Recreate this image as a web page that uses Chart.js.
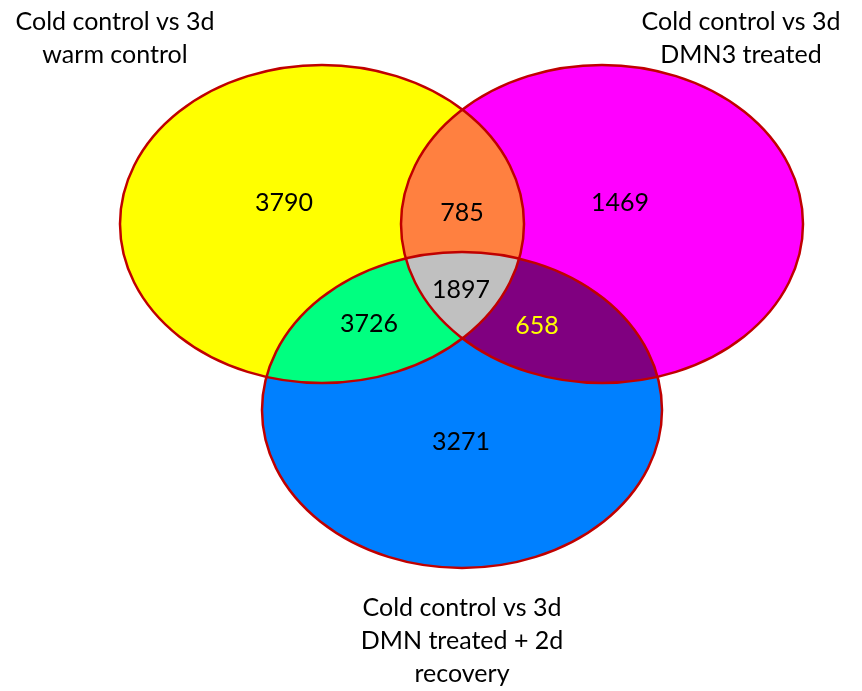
<!DOCTYPE html>
<html lang="en">
<head>
<meta charset="UTF-8">
<title>Venn diagram</title>
<script src="https://cdn.jsdelivr.net/npm/chart.js"></script>
<style>
  html, body { margin: 0; padding: 0; background: #ffffff; }
  canvas { display: block; }
</style>
</head>
<body>
<canvas id="venn" width="862" height="691"></canvas>
<script>
// --- data ---
const setNames = [
  ["Cold control vs 3d", "warm control"],
  ["Cold control vs 3d", "DMN3 treated"],
  ["Cold control vs 3d", "DMN treated + 2d", "recovery"]
];
// region membership: which sets each region belongs to (0 = warm, 1 = DMN3, 2 = DMN+recovery)
const regionSets = [[0], [1], [2], [0, 1], [0, 2], [1, 2], [0, 1, 2]];
const regionCounts = [3790, 1469, 3271, 785, 3726, 658, 1897];

// --- layout (in axis units, 1 unit = 1 px of the 862x691 figure) ---
const ellipses = [
  { cx: 322, cy: 224, rx: 202, ry: 159 },
  { cx: 602, cy: 224, rx: 201, ry: 159 },
  { cx: 462, cy: 410, rx: 200, ry: 158 }
];
const regionAnchors = [
  [284, 203], [620, 203], [461, 442], [462, 213], [369, 324], [537, 326], [461, 290]
];
const setLabelAnchors = [[115, 22], [741, 22], [462, 608]];
const setLabelLineGap = 33;

// --- styles ---
const setColors = ["#ffff00", "#ff00ff", "#0080ff"];
const regionColors = ["#ffff00", "#ff00ff", "#0080ff", "#ff8040", "#00ff80", "#800080", "#c0c0c0"];
const regionTextColors = ["#000", "#000", "#000", "#000", "#000", "#ffff00", "#000"];
const outlineColor = "#c00000";
const fontFamily = "Lato, 'Open Sans', sans-serif";

function ellipsePath(ctx, chart, e) {
  const x = chart.scales.x, y = chart.scales.y;
  const px = x.getPixelForValue(e.cx), py = y.getPixelForValue(e.cy);
  const prx = Math.abs(x.getPixelForValue(e.cx + e.rx) - px);
  const pry = Math.abs(y.getPixelForValue(e.cy + e.ry) - py);
  ctx.beginPath();
  ctx.ellipse(px, py, prx, pry, 0, 0, Math.PI * 2);
}

const vennPlugin = {
  id: "venn",
  beforeDatasetsDraw(chart) {
    const ctx = chart.ctx;
    // fill each region: clip to all but the last member set, then fill the last
    regionSets.forEach((sets, i) => {
      ctx.save();
      for (let k = 0; k < sets.length - 1; k++) {
        ellipsePath(ctx, chart, ellipses[sets[k]]);
        ctx.clip();
      }
      ellipsePath(ctx, chart, ellipses[sets[sets.length - 1]]);
      ctx.fillStyle = regionColors[i];
      ctx.fill();
      ctx.restore();
    });
    ctx.save();
    ctx.strokeStyle = outlineColor;
    ctx.lineWidth = 2.5;
    ellipses.forEach(e => { ellipsePath(ctx, chart, e); ctx.stroke(); });
    ctx.restore();
  },
  afterDatasetsDraw(chart) {
    const ctx = chart.ctx;
    const meta = chart.getDatasetMeta(0);
    ctx.save();
    ctx.textAlign = "center";
    ctx.textBaseline = "middle";
    ctx.font = "25px " + fontFamily;
    meta.data.forEach((pt, i) => {
      ctx.fillStyle = regionTextColors[i];
      ctx.fillText(String(regionCounts[i]), pt.x, pt.y);
    });
    // set names
    ctx.fillStyle = "#000";
    setNames.forEach((lines, i) => {
      const [lx, ly] = setLabelAnchors[i];
      lines.forEach((line, j) => {
        ctx.fillText(line,
          chart.scales.x.getPixelForValue(lx),
          chart.scales.y.getPixelForValue(ly + j * setLabelLineGap));
      });
    });
    ctx.restore();
  }
};

new Chart(document.getElementById("venn"), {
  type: "scatter",
  data: {
    datasets: [{
      label: "Region counts",
      data: regionAnchors.map((a, i) => ({ x: a[0], y: a[1], v: regionCounts[i] })),
      pointRadius: 0,
      pointHoverRadius: 0
    }]
  },
  options: {
    responsive: false,
    animation: false,
    layout: { padding: 0 },
    plugins: { legend: { display: false }, tooltip: { enabled: false } },
    scales: {
      x: { type: "linear", min: 0, max: 862, display: false },
      y: { type: "linear", min: 0, max: 691, reverse: true, display: false }
    }
  },
  plugins: [vennPlugin]
});
</script>
</body>
</html>
